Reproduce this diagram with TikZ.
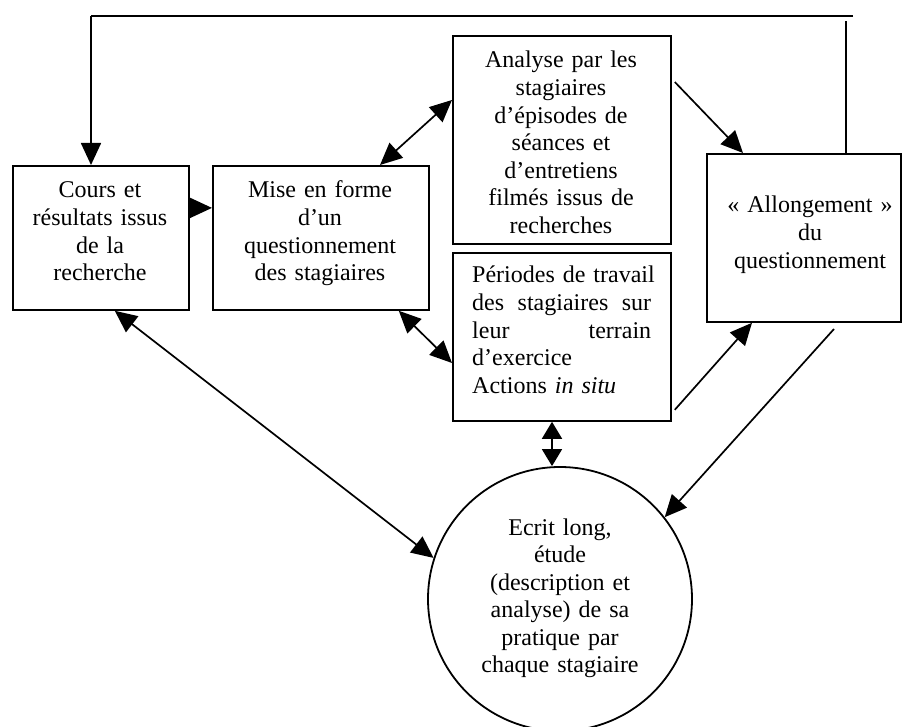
\documentclass[tikz,border=0pt]{standalone}
\usepackage{fontspec}
\setmainfont{Liberation Serif}
\usetikzlibrary{arrows.meta,calc}
\newcommand{\justline}[1]{\leavevmode\hbox to 179pt{#1}}
\begin{document}
\begin{tikzpicture}[x=1pt,y=-1pt,
  every node/.style={font=\fontsize{24}{27.6}\selectfont},
  box/.style={draw, line width=1.8pt, rectangle, inner sep=0pt, anchor=north west},
  lbl/.style={inner sep=0pt, text width=#1, align=center, anchor=base},
  conn/.style={line width=1.7pt},
  onehead/.style={conn, -{Triangle[length=22pt,width=20pt]}},
  twohead/.style={conn, {Triangle[length=22pt,width=20pt]}-{Triangle[length=22pt,width=20pt]}},
  shorttwohead/.style={conn, {Triangle[length=17pt,width=20pt]}-{Triangle[length=17pt,width=20pt]}}
]
\useasboundingbox (0,0) rectangle (903,727);

% boxes
\node[box, minimum width=176pt, minimum height=144pt] (b1) at (12,165) {};
\node[box, minimum width=216pt, minimum height=144pt] (b2) at (212,165) {};
\node[box, minimum width=218pt, minimum height=208pt] (b3) at (452,35) {};
\node[box, minimum width=218pt, minimum height=168pt] (b4) at (452,252) {};
\node[box, minimum width=194pt, minimum height=168pt] (b5) at (706,153) {};
\node[draw, circle, line width=1.8pt, minimum size=264pt, inner sep=0pt] (c) at (560,599) {};

% texts
\node[lbl=200pt] (t1) at (100,198) {Cours et\\résultats issus\\de la\\recherche};
\node[lbl=210pt] (t2) at (320,198) {Mise en forme\\d’un\\questionnement\\des stagiaires};
\node[lbl=210pt] (t3) at (561,68) {Analyse par les\\stagiaires\\d’épisodes de\\séances et\\d’entretiens\\filmés issus de\\recherches};
\node[inner sep=0pt, text width=210pt, align=left, anchor=base west] (t4) at (472,283)
  {Périodes de travail\\\justline{des\hfill stagiaires\hfill sur}\\\justline{leur\hfill terrain}\\d’exercice\\Actions \textit{in situ}};
\node[lbl=190pt] (t5) at (810,213) {« Allongement »\\du\\questionnement};
\node[lbl=220pt] (tc) at (560,535) {Ecrit long,\\étude\\(description et\\analyse) de sa\\pratique par\\chaque stagiaire};

% feedback loop along the top
\coordinate (tl) at (91,16);
\coordinate (tr) at (853,16);
\coordinate (rv) at (846,21);
\draw[conn] (tr) -- (tl);
\draw[onehead] (tl) -- (tl |- b1.north);
\draw[conn] (b5.north -| rv) -- (rv);

% connectors
\draw[onehead] ([yshift=30pt]b1.east) -- ([yshift=30pt]b2.west);
\draw[twohead] ([xshift=168pt]b2.north west) -- ([yshift=-65pt]b3.north west);
\draw[onehead] ([xshift=3pt,yshift=-47pt]b3.north east) -- ([xshift=37pt]b5.north west);
\draw[twohead] ([xshift=-31pt]b2.south east) -- ([yshift=-111pt]b4.north west);
\draw[onehead] ([xshift=3pt,yshift=12pt]b4.south east) -- ([xshift=46pt]b5.south west);
\draw[twohead] ([xshift=-75pt]b1.south east) -- (c.162);
\draw[shorttwohead] ([xshift=100pt]b4.south west) -- ([xshift=100pt]b4.south west |- c.north);
\coordinate (s5) at (834,329);
\draw[onehead] (s5) -- (c.38);
\end{tikzpicture}
\end{document}
